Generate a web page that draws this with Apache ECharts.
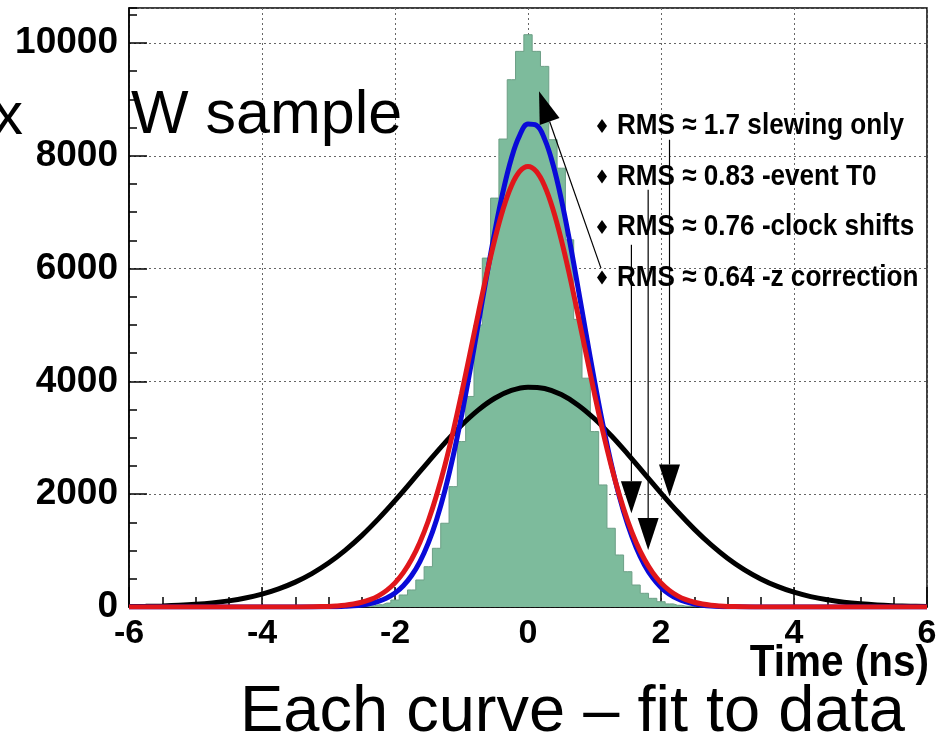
<!DOCTYPE html>
<html>
<head>
<meta charset="utf-8">
<script src="https://cdn.jsdelivr.net/npm/echarts@6/dist/echarts.min.js"></script>
<style>
  html, body { margin: 0; padding: 0; background: #ffffff; }
  #chart { width: 944px; height: 741px; }
</style>
</head>
<body>
<div id="chart"></div>
<script>
// Time residuals (ns) after the z correction, 0.125 ns bins
const binCenters = [-2.625, -2.5, -2.375, -2.25, -2.125, -2, -1.875, -1.75, -1.625, -1.5, -1.375,
  -1.25, -1.125, -1, -0.875, -0.75, -0.625, -0.5, -0.375, -0.25, -0.125, 0, 0.125, 0.25, 0.375,
  0.5, 0.625, 0.75, 0.875, 1, 1.125, 1.25, 1.375, 1.5, 1.625, 1.75, 1.875, 2, 2.125, 2.25, 2.375,
  2.5, 2.625];
const binCounts = [0, 10, 20, 40, 70, 124, 213, 302, 479, 715, 1041, 1485, 2134, 2933, 3733, 5000,
  6186, 7250, 8297, 9349, 9851, 10147, 9851, 9585, 8285, 7780, 6510, 5100, 4057, 3110, 2164, 1396,
  922, 626, 390, 243, 154, 94, 55, 30, 15, 8, 0];

// Gaussian fits, sampled along the time axis
const wideX = [-6, -5.75, -5.5, -5.25, -5, -4.75, -4.5, -4.25, -4, -3.75, -3.5, -3.25, -3, -2.75,
  -2.5, -2.25, -2, -1.75, -1.5, -1.25, -1, -0.75, -0.5, -0.25, 0, 0.25, 0.5, 0.75, 1, 1.25, 1.5,
  1.75, 2, 2.25, 2.5, 2.75, 3, 3.25, 3.5, 3.75, 4, 4.25, 4.5, 4.75, 5, 5.25, 5.5, 5.75, 6];
const slewingOnly = [7, 12, 19, 30, 47, 72, 109, 159, 228, 321, 441, 593, 780, 1005, 1266, 1562,
  1885, 2227, 2574, 2911, 3223, 3491, 3701, 3840, 3898, 3873, 3766, 3583, 3337, 3040, 2711, 2365,
  2020, 1688, 1381, 1105, 865, 663, 498, 365, 262, 184, 127, 85, 56, 36, 23, 14, 9];

const narrowX = [-6, -3.5, -3, -2.875, -2.75, -2.625, -2.5, -2.375, -2.25, -2.125, -2, -1.875, -1.75,
  -1.625, -1.5, -1.375, -1.25, -1.125, -1, -0.875, -0.75, -0.625, -0.5, -0.375, -0.25, -0.125, 0,
  0.125, 0.25, 0.375, 0.5, 0.625, 0.75, 0.875, 1, 1.125, 1.25, 1.375, 1.5, 1.625, 1.75, 1.875, 2,
  2.125, 2.25, 2.375, 2.5, 2.625, 2.75, 2.875, 3, 3.5, 6];
const clockShifts = [0, 0, 3, 6, 12, 21, 36, 60, 99, 159, 248, 377, 558, 806, 1132, 1548, 2063, 2679,
  3386, 4170, 5001, 5843, 6648, 7368, 7953, 8361, 8562, 8540, 8295, 7849, 7233, 6493, 5676, 4833,
  4009, 3238, 2548, 1952, 1457, 1059, 750, 517, 348, 227, 145, 90, 54, 32, 18, 10, 6, 0, 0];
const eventT0 = [0, 0, 11, 19, 32, 53, 84, 130, 198, 295, 428, 609, 846, 1149, 1525, 1980, 2512,
  3117, 3779, 4481, 5192, 5883, 6514, 7052, 7464, 7722, 7810, 7722, 7464, 7052, 6514, 5883, 5192,
  4481, 3779, 3117, 2512, 1980, 1525, 1149, 846, 609, 428, 295, 198, 130, 84, 53, 32, 19, 11, 0, 0];

// Axis ticks
const xTicks = [-6, -4, -2, 0, 2, 4, 6];
const yTicks = [0, 2000, 4000, 6000, 8000, 10000];

// Legend lines and the curve each one points at: [x from, y from, x to, y to]
const legendLines = [
  'RMS \u2248 1.7 slewing only',
  'RMS \u2248 0.83 -event T0',
  'RMS \u2248 0.76 -clock shifts',
  'RMS \u2248 0.64 -z correction'
];
const pointers = [
  [2.128, 8285, 2.128, 1957],
  [1.807, 7398, 1.807, 1011],
  [1.555, 6422, 1.555, 1662],
  [1.097, 6009, 0.166, 9142]
];

const chart = echarts.init(document.getElementById('chart'), null, { renderer: 'canvas' });
const FONT = '"Liberation Sans", Arial, Helvetica, sans-serif';

const pair = (xs, ys) => xs.map((x, i) => [x, ys[i]]);

// text placed by its baseline: the bottom of the text box sits ~0.17 em below it
const atBaseline = (size, baseline) => baseline + Math.round(size * 0.17);

const legendTop = 126, legendStep = 50.5;
const graphics = [];
legendLines.forEach((t, i) => {
  const cy = legendTop + i * legendStep;
  graphics.push({
    type: 'polygon', z: 20,
    shape: { points: [[602, cy - 7], [607, cy], [602, cy + 7], [597, cy]] },
    style: { fill: '#000' }
  });
  graphics.push({
    type: 'text', z: 20, x: 617, y: cy, scaleX: 0.87,
    style: { text: t, font: 'bold 30px ' + FONT, fill: '#000', align: 'left', verticalAlign: 'middle' }
  });
});
graphics.push(
  { type: 'text', z: 20, x: 131, y: atBaseline(61, 137),
    style: { text: 'W sample', font: '61px ' + FONT, fill: '#000', align: 'left', verticalAlign: 'bottom' } },
  { type: 'text', z: 20, x: 23, y: atBaseline(60, 137),
    style: { text: 'x', font: '60px ' + FONT, fill: '#000', align: 'right', verticalAlign: 'bottom' } },
  { type: 'text', z: 20, x: 929, y: atBaseline(44, 679), scaleX: 0.92,
    style: { text: 'Time (ns)', font: 'bold 44px ' + FONT, fill: '#000', align: 'right', verticalAlign: 'bottom' } },
  { type: 'text', z: 20, x: 240, y: atBaseline(65, 735),
    style: { text: 'Each curve \u2013 fit to data', font: '65px ' + FONT, fill: '#000', align: 'left', verticalAlign: 'bottom' } }
);

const gridLine = { show: true, lineStyle: { color: '#666', width: 1, type: [2, 3] } };

chart.setOption({
  animation: false,
  backgroundColor: '#ffffff',
  grid: { left: 129, right: 17, top: 8, bottom: 134, show: true, borderColor: '#000', borderWidth: 1.5,
          backgroundColor: 'transparent', outerBoundsMode: 'none', containLabel: false },
  xAxis: [{
    type: 'value', min: xTicks[0], max: xTicks[xTicks.length - 1], interval: xTicks[1] - xTicks[0],
    axisLine: { show: true, onZero: false, lineStyle: { color: '#000', width: 1.5 } },
    axisTick: { show: true, inside: true, length: 20, lineStyle: { color: '#000', width: 1.5 } },
    minorTick: { show: true, splitNumber: 4, length: 10, lineStyle: { color: '#000', width: 1.5 } },
    axisLabel: { show: true, color: '#000', fontFamily: FONT, fontWeight: 'bold', fontSize: 34, margin: 10,
                 formatter: v => String(v) },
    splitLine: gridLine
  }],
  yAxis: [{
    type: 'value', min: yTicks[0], max: 10620, interval: yTicks[1] - yTicks[0],
    axisLine: { show: true, onZero: false, lineStyle: { color: '#000', width: 1.5 } },
    axisTick: { show: true, inside: true, length: 18, lineStyle: { color: '#000', width: 1.5 } },
    axisLabel: { show: true, color: '#000', fontFamily: FONT, fontWeight: 'bold', fontSize: 37, margin: 11,
                 showMaxLabel: false, formatter: v => String(v) },
    splitLine: gridLine
  }, {
    type: 'value', min: yTicks[0], max: 10620, interval: (yTicks[1] - yTicks[0]) / 4, position: 'left',
    axisLine: { show: false, onZero: false },
    axisTick: { show: true, inside: true, length: 8, lineStyle: { color: '#000', width: 1.5 } },
    axisLabel: { show: false },
    splitLine: { show: false }
  }],
  graphic: graphics,
  series: [
    {
      name: 'z correction', type: 'line', step: 'middle', showSymbol: false, z: 2,
      data: pair(binCenters, binCounts),
      lineStyle: { color: '#6c9f86', width: 1 },
      areaStyle: { color: '#7dbb9c', opacity: 1 }
    },
    {
      name: 'slewing only', type: 'line', smooth: 0.4, showSymbol: false, z: 3,
      data: pair(wideX, slewingOnly),
      lineStyle: { color: '#000000', width: 5 }
    },
    {
      name: 'clock shifts', type: 'line', smooth: 0.4, showSymbol: false, z: 4,
      data: pair(narrowX, clockShifts),
      lineStyle: { color: '#0a0ad8', width: 5 }
    },
    {
      name: 'event T0', type: 'line', smooth: 0.4, showSymbol: false, z: 5,
      data: pair(narrowX, eventT0),
      lineStyle: { color: '#e0161b', width: 5 }
    },
    {
      name: 'pointers', type: 'custom', z: 10, silent: true,
      data: pointers,
      renderItem: function (params, api) {
        const p1 = api.coord([api.value(0), api.value(1)]);
        const p2 = api.coord([api.value(2), api.value(3)]);
        const dx = p2[0] - p1[0], dy = p2[1] - p1[1];
        const len = Math.hypot(dx, dy);
        const ux = dx / len, uy = dy / len;
        const headLen = 32, headHalf = 10.5;
        const base = [p2[0] - ux * headLen, p2[1] - uy * headLen];
        const l = [base[0] - uy * headHalf, base[1] + ux * headHalf];
        const r = [base[0] + uy * headHalf, base[1] - ux * headHalf];
        return {
          type: 'group',
          children: [
            { type: 'line', shape: { x1: p1[0], y1: p1[1], x2: base[0], y2: base[1] },
              style: { stroke: '#000', lineWidth: 1.2 } },
            { type: 'polygon', shape: { points: [p2, l, r] }, style: { fill: '#000' } }
          ]
        };
      }
    }
  ]
});
</script>
</body>
</html>
